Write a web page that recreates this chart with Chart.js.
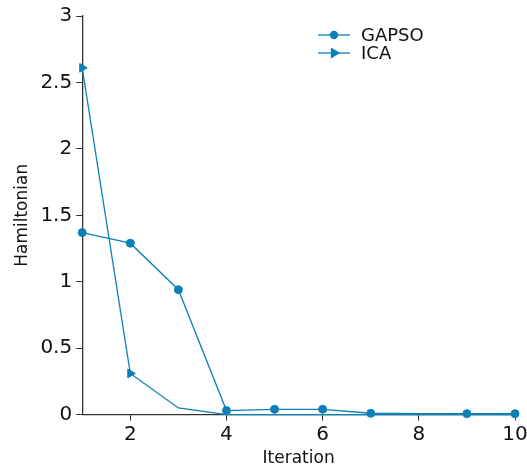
<!DOCTYPE html>
<html>
<head>
<meta charset="utf-8">
<script src="https://cdn.jsdelivr.net/npm/chart.js@4/dist/chart.umd.min.js"></script>
<style>
  html, body { margin: 0; padding: 0; background: #fff; overflow: hidden; }
  #wrap { width: 527px; height: 471px; }
</style>
</head>
<body>
<div id="wrap"><canvas id="chart"></canvas></div>
<script>
// data
const iterations = [1, 2, 3, 4, 5, 6, 7, 8, 9, 10];
const gapso = [1.37, 1.29, 0.94, 0.03, 0.04, 0.04, 0.01, 0.007, 0.007, 0.007];
const ica = [2.61, 0.31, 0.05, 0, 0, 0, 0, 0, 0, 0];
const xTicks = [2, 4, 6, 8, 10];
const yTicks = [0, 0.5, 1, 1.5, 2, 2.5, 3];

const blue = '#0b80b8';
const axisColor = '#333333';
const font = 'DejaVu Sans';

// legend drawn as line + marker, like the original
const lineLegend = {
  id: 'lineLegend',
  afterDraw(chart) {
    const ctx = chart.ctx;
    const x0 = 318, x1 = 350, tx = 361;
    let y = 35;
    chart.data.datasets.forEach(ds => {
      ctx.save();
      ctx.strokeStyle = ds.borderColor;
      ctx.lineWidth = 1.3;
      ctx.beginPath();
      ctx.moveTo(x0, y);
      ctx.lineTo(x1, y);
      ctx.stroke();
      ctx.fillStyle = ds.borderColor;
      Chart.helpers.drawPoint(ctx, {
        pointStyle: ds.pointStyle,
        radius: ds.legendRadius,
        rotation: ds.pointRotation || 0,
        borderWidth: 1
      }, (x0 + x1) / 2, y);
      ctx.fillStyle = '#111';
      ctx.font = '18px "' + font + '"';
      ctx.textBaseline = 'middle';
      ctx.fillText(ds.label, tx, y + 1);
      ctx.restore();
      y += 18;
    });
  }
};

const chart = document.querySelector('#chart').getContext('2d');

new Chart(chart, {
  type: 'line',
  data: {
    labels: iterations,
    datasets: [
      {
        label: 'GAPSO',
        data: iterations.map((x, i) => ({ x: x, y: gapso[i] })),
        borderColor: blue,
        backgroundColor: blue,
        borderWidth: 1.3,
        pointStyle: 'circle',
        pointRadius: [4, 4, 4, 4, 4, 4, 4, 0, 4, 4],
        legendRadius: 3.5,
        pointBorderWidth: 1,
        tension: 0,
        clip: false
      },
      {
        label: 'ICA',
        data: iterations.map((x, i) => ({ x: x, y: ica[i] })),
        borderColor: blue,
        backgroundColor: blue,
        borderWidth: 1.3,
        pointStyle: 'triangle',
        pointRotation: 90,
        pointRadius: [5, 5, 0, 0, 0, 0, 0, 0, 0, 0],
        legendRadius: 5,
        pointBorderWidth: 1,
        tension: 0,
        clip: false
      }
    ]
  },
  options: {
    responsive: true,
    maintainAspectRatio: false,
    animation: false,
    layout: { padding: { top: 10, right: 0, left: 12, bottom: 2 } },
    plugins: {
      legend: { display: false },
      tooltip: { enabled: false }
    },
    scales: {
      x: {
        type: 'linear',
        min: 1,
        max: 10,
        afterBuildTicks: axis => { axis.ticks = xTicks.map(v => ({ value: v })); },
        // the original lets the last label run off the edge
        afterFit: axis => { axis.paddingRight = 12; },
        grid: { drawOnChartArea: false, drawTicks: true, tickLength: 6, color: axisColor },
        border: { color: axisColor, width: 1.3 },
        ticks: { color: '#111', font: { family: font, size: 20 }, padding: 2, maxRotation: 0 },
        title: { display: true, text: 'Iteration', color: '#111', font: { family: font, size: 17 }, padding: { top: 0, bottom: 0 } }
      },
      y: {
        min: 0,
        max: 3,
        afterBuildTicks: axis => { axis.ticks = yTicks.map(v => ({ value: v })); },
        grid: { drawOnChartArea: false, drawTicks: true, tickLength: 6, color: axisColor },
        border: { color: axisColor, width: 1.3 },
        ticks: { color: '#111', font: { family: font, size: 20 }, padding: 4, callback: v => String(v) },
        title: { display: true, text: 'Hamiltonian', color: '#111', font: { family: font, size: 17 }, padding: { top: 0, bottom: 4 } }
      }
    }
  },
  plugins: [lineLegend]
});
</script>
</body>
</html>
